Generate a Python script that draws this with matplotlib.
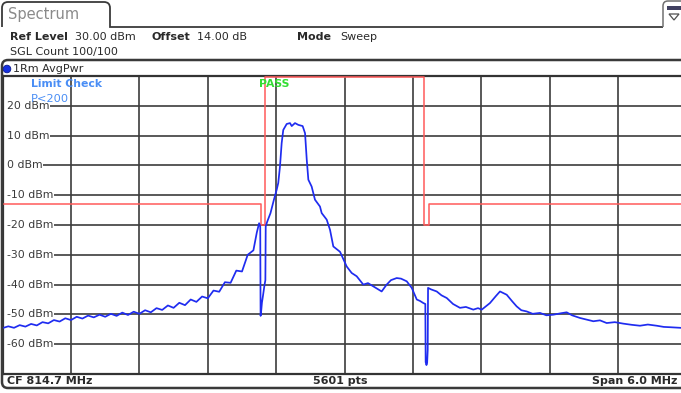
import matplotlib
matplotlib.use("Agg")
import matplotlib.pyplot as plt
from matplotlib.path import Path
from matplotlib.patches import PathPatch, Circle, Polygon, Rectangle
from matplotlib.transforms import IdentityTransform

# === Data ===
CF = 814.7          # MHz
SPAN = 6.0          # MHz
REF = 30.0          # dBm
RANGE = 100.0       # dB

level_ticks = [20, 10, 0, -10, -20, -30, -40, -50, -60]

# averaged power trace (MHz, dBm)
trace_f = [
    811.70, 811.75, 811.80, 811.85, 811.90, 811.95, 812.00, 812.05, 812.10, 812.15,
    812.20, 812.25, 812.30, 812.35, 812.40, 812.45, 812.50, 812.55, 812.60, 812.65,
    812.70, 812.75, 812.80, 812.85, 812.90, 812.95, 813.00, 813.05, 813.10, 813.15,
    813.20, 813.25, 813.30, 813.35, 813.40, 813.45, 813.50, 813.55, 813.60, 813.65,
    813.70, 813.75, 813.80, 813.85, 813.90, 813.93, 813.95, 813.960, 813.963, 813.968,
    813.975, 813.985, 813.996, 814.005, 814.008, 814.020, 814.050, 814.080, 814.104, 814.118,
    814.133, 814.148, 814.162, 814.192, 814.221, 814.236, 814.265, 814.294, 814.332, 814.353,
    814.368, 814.382, 814.411, 814.440, 814.484, 814.499, 814.543, 814.572, 814.601, 814.660,
    814.718, 814.762, 814.806, 814.864, 814.905, 814.952, 815.025, 815.069, 815.107, 815.157,
    815.195, 815.245, 815.289, 815.333, 815.362, 815.391, 815.408, 815.411, 815.418, 815.424,
    815.429, 815.432, 815.458, 815.508, 815.550, 815.596, 815.651, 815.712, 815.764, 815.829,
    815.870, 815.903, 815.975, 816.028, 816.063, 816.122, 816.170, 816.209, 816.250, 816.297,
    816.350, 816.414, 816.470, 816.531, 816.600, 816.648, 816.695, 816.765, 816.820, 816.882,
    816.940, 816.999, 817.070, 817.145, 817.220, 817.291, 817.360, 817.438, 817.500, 817.554,
    817.641, 817.700,
]
trace_db = [
    -54.6, -54.0, -54.5, -53.6, -54.1, -53.2, -53.7, -52.6, -53.0, -51.9,
    -52.4, -51.3, -51.9, -50.8, -51.4, -50.4, -51.0, -50.1, -50.8, -49.8,
    -50.5, -49.4, -50.2, -49.1, -49.8, -48.6, -49.3, -47.9, -48.5, -47.0,
    -47.8, -46.1, -46.9, -45.0, -45.8, -44.0, -44.6, -42.0, -42.4, -39.2,
    -39.4, -35.3, -35.6, -30.0, -28.5, -22.5, -19.4, -20.5, -50.5, -49.0,
    -46.0, -43.5, -40.5, -38.5, -20.5, -19.0, -16.0, -11.5, -8.2, -5.9,
    -0.4, 7.5, 11.9, 13.9, 14.2, 13.2, 14.2, 13.6, 13.2, 10.8,
    1.9, -4.8, -7.1, -11.5, -13.8, -16.0, -18.2, -21.6, -27.2, -29.0,
    -33.9, -36.1, -37.2, -40.0, -39.5, -40.6, -42.3, -40.0, -38.5, -37.8,
    -38.0, -38.9, -41.1, -45.0, -45.5, -46.2, -46.5, -66.0, -67.0, -66.3,
    -62.0, -41.1, -41.6, -42.3, -43.6, -44.5, -46.5, -47.8, -47.5, -48.4,
    -47.9, -48.4, -46.2, -43.8, -42.3, -43.4, -45.6, -47.3, -48.6, -49.0,
    -49.8, -49.5, -50.3, -50.1, -49.6, -49.3, -50.3, -51.2, -51.7, -52.3,
    -52.0, -52.9, -52.6, -53.1, -53.5, -53.8, -53.4, -53.8, -54.2, -54.3,
    -54.5, -54.6,
]

# limit line (MHz, dBm)
limit_f = [811.70, 813.965, 813.965, 814.002, 814.002, 815.395, 815.395, 815.440, 815.440, 817.70]
limit_db = [-13, -13, -20, -20, 29.6, 29.6, -20, -20, -13, -13]

# === Figure / layout (pixel based, 681x393) ===
W, H = 681, 393
fig = plt.figure(figsize=(W / 100, H / 100), dpi=100)
fig.patch.set_facecolor("white")

# plot area: x 2.6..686.6 px (right edge is cut off), y 76..374 px
ax = fig.add_axes([2.6 / W, 1 - 374 / H, 684 / W, 298 / H])
ax.set_xlim(CF - SPAN / 2, CF + SPAN / 2)
ax.set_ylim(REF - RANGE, REF)
ax.set_xticks([])
ax.set_yticks([])
ax.spines["right"].set_visible(False)
for side in ["left", "top", "bottom"]:
    ax.spines[side].set_color("#333333")
    ax.spines[side].set_linewidth(1.6)

grid_c = "#3c3c3c"
for k in range(1, 10):
    ax.axvline(CF - SPAN / 2 + k * SPAN / 10, color=grid_c, lw=1.2, zorder=1)

# level labels sit inside the first column, grid lines start after them
labels = []
for lv in level_ticks:
    t = ax.text(0.0065, lv, f"{lv} dBm", transform=ax.get_yaxis_transform(),
                ha="left", va="center", fontsize=7.8, color="#3a3a3a", zorder=3)
    labels.append(t)
fig.canvas.draw()
renderer = fig.canvas.get_renderer()
inv = ax.transData.inverted()
for lv, t in zip(level_ticks, labels):
    bb = t.get_window_extent(renderer)
    x_start = inv.transform((bb.x1 + 0.5, 0))[0]
    ax.hlines(lv, x_start, CF + SPAN / 2, color=grid_c, lw=1.2, zorder=1)

ax.plot(limit_f, limit_db, color="#ff5a5a", lw=1.1, zorder=4)
ax.plot(trace_f, trace_db, color="#1f2cf0", lw=1.25, zorder=5)

ax.text(0.0415, 0.973, "Limit Check", transform=ax.transAxes, ha="left", va="center",
        fontsize=7.8, fontweight="bold", color="#4a8ef5", zorder=6)
ax.text(0.0415, 0.922, "P<200", transform=ax.transAxes, ha="left", va="center",
        fontsize=8.2, color="#4a8ef5", zorder=6)
ax.text(0.375, 0.973, "PASS", transform=ax.transAxes, ha="left", va="center",
        fontsize=7.8, fontweight="bold", color="#33dd33", zorder=6)


# === Instrument frame and header ===
def P(x, y):
    return (x, H - y)


frame_c = "#3a3a3a"
pix = IdentityTransform()

# tab "Spectrum" and header rule
tab = Path([P(2, 27), P(2, 8), P(2, 2), P(8, 2), P(104, 2), P(110, 2), P(110, 8),
            P(110, 27), P(663, 27)],
           [Path.MOVETO, Path.LINETO, Path.CURVE3, Path.CURVE3, Path.LINETO,
            Path.CURVE3, Path.CURVE3, Path.LINETO, Path.LINETO])
fig.add_artist(PathPatch(tab, fill=False, ec=frame_c, lw=1.3, transform=pix))

icon = Path([P(663, 27), P(663, 6), P(663, 1), P(668, 1), P(690, 1)],
            [Path.MOVETO, Path.LINETO, Path.CURVE3, Path.CURVE3, Path.LINETO])
fig.add_artist(PathPatch(icon, fill=False, ec="#707070", lw=1.1, transform=pix))
fig.add_artist(Rectangle(P(667, 10), 14, 4, fc="#404060", ec="none", transform=pix))
fig.add_artist(Polygon([P(669, 14), P(679, 14), P(674, 20)], closed=True,
                       fill=False, ec="#505050", lw=0.9, transform=pix))

# panel outline around trace label, diagram and footer
panel = Path([P(700, 60), P(8, 60), P(2, 60), P(2, 66), P(2, 382), P(2, 388),
              P(8, 388), P(700, 388)],
             [Path.MOVETO, Path.LINETO, Path.CURVE3, Path.CURVE3, Path.LINETO,
              Path.CURVE3, Path.CURVE3, Path.LINETO])
fig.add_artist(PathPatch(panel, fill=False, ec=frame_c, lw=1.8, transform=pix))
fig.add_artist(Circle(P(7, 69), 3.8, fc="#1530e0", ec="#0a1a90", lw=0.6, transform=pix))


def T(x, y, s, **kw):
    kw.setdefault("fontsize", 8)
    kw.setdefault("color", "#2a2a2a")
    kw.setdefault("va", "center")
    fig.text(x / W, 1 - y / H, s, **kw)


T(8, 15, "Spectrum", fontsize=10.5, color="#8a8a8a")
T(10, 37, "Ref Level", fontweight="bold")
T(75, 37, "30.00 dBm")
T(152, 37, "Offset", fontweight="bold")
T(197, 37, "14.00 dB")
T(297, 37, "Mode", fontweight="bold")
T(340, 37, "Sweep")
T(10, 52, "SGL Count 100/100")
T(13, 69, "1Rm AvgPwr")

T(7, 381, "CF 814.7 MHz", fontweight="bold")
T(340, 381, "5601 pts", fontweight="bold", ha="center")
T(677, 381, "Span 6.0 MHz", fontweight="bold", ha="right")

fig.savefig("out.png", dpi=100)
